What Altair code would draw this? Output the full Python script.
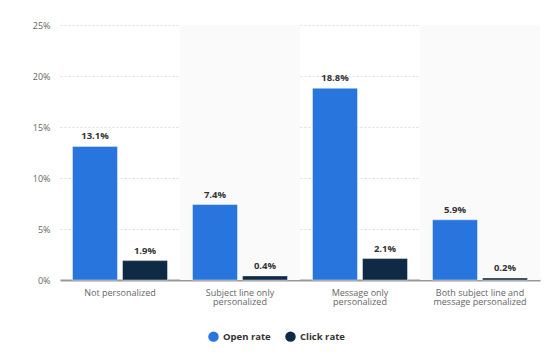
import altair as alt
import pandas as pd

categories = ["Not personalized", "Subject line only|personalized",
              "Message only|personalized", "Both subject line and|message personalized"]
open_rate = [13.1, 7.4, 18.8, 5.9]
click_rate = [1.9, 0.4, 2.1, 0.2]
series = ["Open rate", "Click rate"]
colors = ["#2876dd", "#0f2a44"]
shaded = [categories[1], categories[3]]

rows = []
for c, o, k in zip(categories, open_rate, click_rate):
    rows.append({"category": c, "series": series[0], "value": o})
    rows.append({"category": c, "series": series[1], "value": k})
df = pd.DataFrame(rows)
shade_df = pd.DataFrame({"category": shaded, "top": [25] * len(shaded)})

FONT = "Open Sans"

x = alt.X("category:N", sort=categories, title=None,
          scale=alt.Scale(paddingInner=0, paddingOuter=0),
          axis=alt.Axis(labelExpr="split(datum.label, '|')", labelAngle=0,
                        labelFontSize=9, labelColor="#666666", labelFont=FONT,
                        labelLineHeight=9.5, labelPadding=8, labelBaseline="top",
                        ticks=False, domainColor="#999999", domainWidth=2,
                        grid=False))
y_scale = alt.Scale(domain=[0, 25], nice=False)

shade = alt.Chart(shade_df).mark_bar(color="#fafafa").encode(
    x=x,
    y=alt.Y("top:Q", scale=y_scale, title=None),
)

bars = alt.Chart(df).mark_bar(stroke="#ffffff", strokeWidth=0.7, strokeOpacity=0.6).encode(
    x=x,
    xOffset=alt.XOffset("series:N", sort=series,
                        scale=alt.Scale(paddingInner=0.1, paddingOuter=0.25)),
    y=alt.Y("value:Q", scale=y_scale, title="Rate",
            axis=alt.Axis(values=[0, 5, 10, 15, 20, 25], labelExpr="datum.value + '%'",
                          labelFontSize=9, labelColor="#666666", labelFont=FONT,
                          ticks=False, domain=False, gridDash=[2, 2],
                          gridColor="#dddddd", labelPadding=10,
                          titleFontSize=7, titleFontWeight="normal", titleColor="#666666",
                          titleFont=FONT, titlePadding=14)),
    color=alt.Color("series:N", sort=series,
                    scale=alt.Scale(domain=series, range=colors),
                    legend=alt.Legend(title=None, orient="none", direction="horizontal",
                                      legendX=148, legendY=306, symbolType="circle",
                                      symbolSize=110, symbolStrokeWidth=0,
                                      labelFontSize=9.5, labelFontWeight="bold",
                                      labelColor="#333333", labelFont=FONT,
                                      columnPadding=14)),
)

labels = alt.Chart(df).transform_calculate(
    label="format(datum.value, '.1f') + '%'"
).mark_text(dy=-10, fontSize=9.5, fontWeight="bold", color="#333333", font=FONT).encode(
    x=x,
    xOffset=alt.XOffset("series:N", sort=series,
                        scale=alt.Scale(paddingInner=0.1, paddingOuter=0.25)),
    y=alt.Y("value:Q", scale=y_scale),
    text="label:N",
)

chart = alt.layer(shade, bars, labels).properties(
    width=480, height=255,
    autosize=alt.AutoSizeParams(type="none"),
    padding={"left": 52, "top": 17, "right": 10, "bottom": 70},
).configure_view(stroke=None)

chart.save("out.html", embed_options={"renderer": "svg", "actions": False})
